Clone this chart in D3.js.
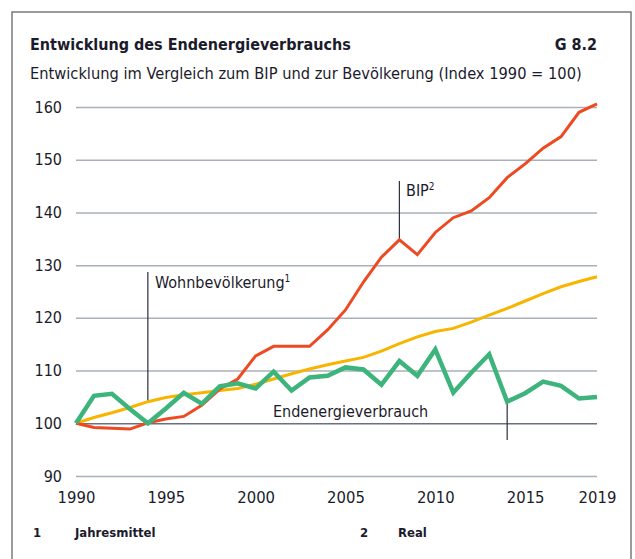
<!DOCTYPE html>
<html>
<head>
<meta charset="utf-8">
<script src="https://cdn.jsdelivr.net/npm/d3@7"></script>
<style>
	body { margin: 0; background: #fff; }
	svg text { font-family: "Liberation Sans Narrow", "DejaVu Sans Condensed", "Arial Narrow", sans-serif; fill: #1b1b2b; }
</style>
</head>
<body>
<div id="wrapper"></div>
<script>
const years = d3.range(1990, 2020);
const bip = [100, 99.2, 99.05, 98.9, 100.1, 100.8, 101.3, 103.4, 106.5, 108.4,
	112.8, 114.6, 114.6, 114.6, 117.7, 121.5, 126.8, 131.5, 134.8, 132.0,
	136.2, 139.0, 140.3, 142.8, 146.6, 149.2, 152.2, 154.4, 159.0, 160.6];
const wohnbev = [100, 101.1, 102.0, 103.0, 104.1, 104.9, 105.4, 105.8, 106.2, 106.6,
	107.4, 108.4, 109.4, 110.3, 111.1, 111.8, 112.5, 113.7, 115.1, 116.4,
	117.4, 118.0, 119.2, 120.5, 121.8, 123.2, 124.6, 125.9, 126.9, 127.8];
const energie = [100, 105.2, 105.6, 102.7, 100.0, 102.8, 105.8, 103.7, 107.0, 107.6,
	106.6, 109.8, 106.2, 108.7, 109.0, 110.6, 110.2, 107.3, 111.8, 109.0,
	114.0, 105.8, 109.6, 113.1, 104.1, 105.7, 107.9, 107.1, 104.7, 105.0];
const yTicks = [90, 100, 110, 120, 130, 140, 150, 160];
const xTicks = [1990, 1995, 2000, 2005, 2010, 2015, 2019];

function drawChart() {
	const width = 635, height = 559;
	const svg = d3.select("#wrapper").append("svg")
		.attr("width", width)
		.attr("height", height);

	// frame
	svg.append("rect")
		.attr("x", 12).attr("y", 12)
		.attr("width", 619).attr("height", 560)
		.attr("fill", "none")
		.attr("stroke", "#7a7a7a")
		.attr("stroke-width", 1.5);

	const xScale = d3.scaleLinear().domain([1990, 2019]).range([76, 597]);
	const yScale = d3.scaleLinear().domain([90, 160]).range([476, 107]);

	// titles
	svg.append("text").attr("x", 30).attr("y", 50)
		.style("font-size", "16px").style("font-weight", "bold")
		.text("Entwicklung des Endenergieverbrauchs");
	svg.append("text").attr("x", 597).attr("y", 50)
		.attr("text-anchor", "end")
		.style("font-size", "16px").style("font-weight", "bold")
		.text("G 8.2");
	svg.append("text").attr("x", 30).attr("y", 79)
		.style("font-size", "16.3px")
		.text("Entwicklung im Vergleich zum BIP und zur Bevölkerung (Index 1990 = 100)");

	// y grid + labels
	const yAxis = svg.append("g")
		.attr("transform", `translate(${xScale(1990)},0)`)
		.call(d3.axisLeft(yScale).tickValues(yTicks).tickSize(-(xScale(2019) - xScale(1990))).tickPadding(14));
	yAxis.select(".domain").remove();
	yAxis.selectAll("line")
		.attr("stroke", d => d === 100 ? "#6b7080" : "#aab0ba")
		.attr("stroke-width", 1.5);
	yAxis.selectAll("text").style("font-size", "16px").attr("fill", "#1b1b2b");

	const xAxis = svg.append("g")
		.attr("transform", `translate(0,${yScale(90)})`)
		.call(d3.axisBottom(xScale).tickValues(xTicks).tickSize(0).tickPadding(15).tickFormat(d3.format("d")));
	xAxis.select(".domain").remove();
	xAxis.selectAll("text").style("font-size", "16.5px").attr("fill", "#1b1b2b");

	const line = vals => d3.line()
		.x((d, i) => xScale(years[i]))
		.y(d => yScale(d))(vals);

	// annotation pointers
	const pointer = (x, y1, y2) => svg.append("line")
		.attr("x1", x).attr("x2", x).attr("y1", y1).attr("y2", y2)
		.attr("stroke", "#2a2f3f").attr("stroke-width", 1.2);
	pointer(xScale(1994), 272, yScale(wohnbev[4]));
	pointer(xScale(2008), 181, yScale(bip[18]));
	pointer(xScale(2014), yScale(energie[24]), 440);

	svg.append("path").attr("d", line(wohnbev))
		.attr("fill", "none").attr("stroke", "#f7b500").attr("stroke-width", 3);
	svg.append("path").attr("d", line(bip))
		.attr("fill", "none").attr("stroke", "#ee4a22").attr("stroke-width", 3);
	svg.append("path").attr("d", line(energie))
		.attr("fill", "none").attr("stroke", "#3db47c").attr("stroke-width", 4.5)
		.attr("stroke-linejoin", "miter");

	// series labels
	const lab1 = svg.append("text").attr("x", 155).attr("y", 288).style("font-size", "16px");
	lab1.append("tspan").text("Wohnbevölkerung");
	lab1.append("tspan").attr("dy", -6).style("font-size", "10px").text("1");
	const lab2 = svg.append("text").attr("x", 406).attr("y", 196).style("font-size", "16px");
	lab2.append("tspan").text("BIP");
	lab2.append("tspan").attr("dy", -6).style("font-size", "10px").text("2");
	svg.append("text").attr("x", 273).attr("y", 417).style("font-size", "16px")
		.text("Endenergieverbrauch");

	// footnotes
	const foot = [
		{ n: "1", t: "Jahresmittel", x: 33, tx: 75 },
		{ n: "2", t: "Real", x: 360, tx: 398 }
	];
	foot.forEach(f => {
		svg.append("text").attr("x", f.x).attr("y", 537)
			.style("font-size", "13px").style("font-weight", "bold").text(f.n);
		svg.append("text").attr("x", f.tx).attr("y", 537)
			.style("font-size", "13px").style("font-weight", "bold").text(f.t);
	});
}

drawChart();
</script>
</body>
</html>
